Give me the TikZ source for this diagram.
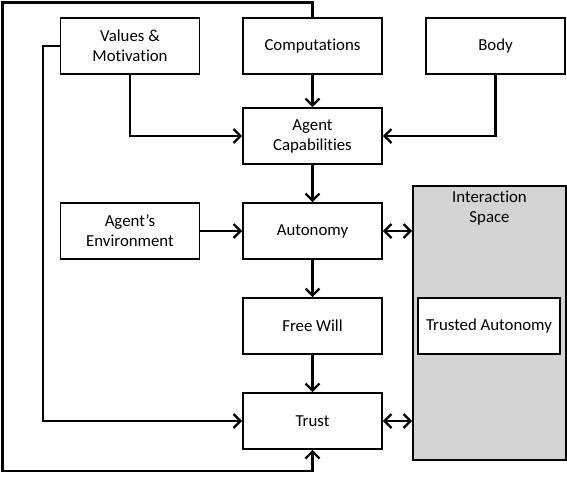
\documentclass[tikz,border=0pt]{standalone}
\usepackage{fontspec}
\setmainfont{Carlito}[Ligatures=CommonOff]
\usetikzlibrary{arrows.meta,calc}
\begin{document}
\begin{tikzpicture}[x=1pt,y=-1pt,
  box/.style={draw=black,line width=1.6pt,fill=white,minimum width=139pt,minimum height=56pt,inner sep=0pt,align=center,font=\fontsize{16.8}{20}\selectfont},
  conn/.style={line width=2.4pt,-{Straight Barb[length=7pt,width=14pt,line width=2.4pt]}},
  dconn/.style={line width=2.4pt,{Straight Barb[length=7pt,width=14pt,line width=2.4pt]}-{Straight Barb[length=7pt,width=14pt,line width=2.4pt]}}]
\useasboundingbox (0,0) rectangle (567,477);
% interaction space
\node[draw=black,line width=1.6pt,fill=black!17,minimum width=153pt,minimum height=274pt,inner sep=0pt] (is) at (489.5,323) {};
\node[anchor=north,align=center,font=\fontsize{16.8}{20}\selectfont,inner sep=0pt] (istext) at (489.5,191) {Interaction\\Space};
\node[box,minimum width=142pt] (ta) at (489,326) {Trusted Autonomy};
% boxes
\node[box] (vm) at (130,46) {Values \&\\Motivation};
\node[box] (comp) at (312.5,46) {Computations};
\node[box] (body) at (495.5,46) {Body};
\node[box] (ac) at (312.5,136) {Agent\\Capabilities};
\node[box] (env) at (130,231) {Agent’s\\Environment};
\node[box] (aut) at (312.5,231) {Autonomy};
\node[box] (fw) at (312.5,326) {Free Will};
\node[box] (tr) at (312.5,421) {Trust};
% connectors
\draw[conn] (comp) -- (ac);
\draw[conn] (ac) -- (aut);
\draw[conn] (aut) -- (fw);
\draw[conn] (fw) -- (tr);
\draw[conn] (env) -- (aut);
\draw[conn] (vm.south) |- (ac.west);
\draw[conn] (body.south) |- (ac.east);
\coordinate (l1) at (43,46);
\draw[conn] (vm.west) -- (l1) |- (tr.west);
\coordinate (t1) at (312.5,2.5);
\coordinate (t2) at (2.5,2.5);
\coordinate (t3) at (2.5,471);
\draw[conn] (comp.north) -- (t1) -- (t2) -- (t3) -| (tr.south);
\draw[dconn] (aut.east) -- (aut.east -| is.west);
\draw[dconn] (tr.east) -- (tr.east -| is.west);
\end{tikzpicture}
\end{document}
